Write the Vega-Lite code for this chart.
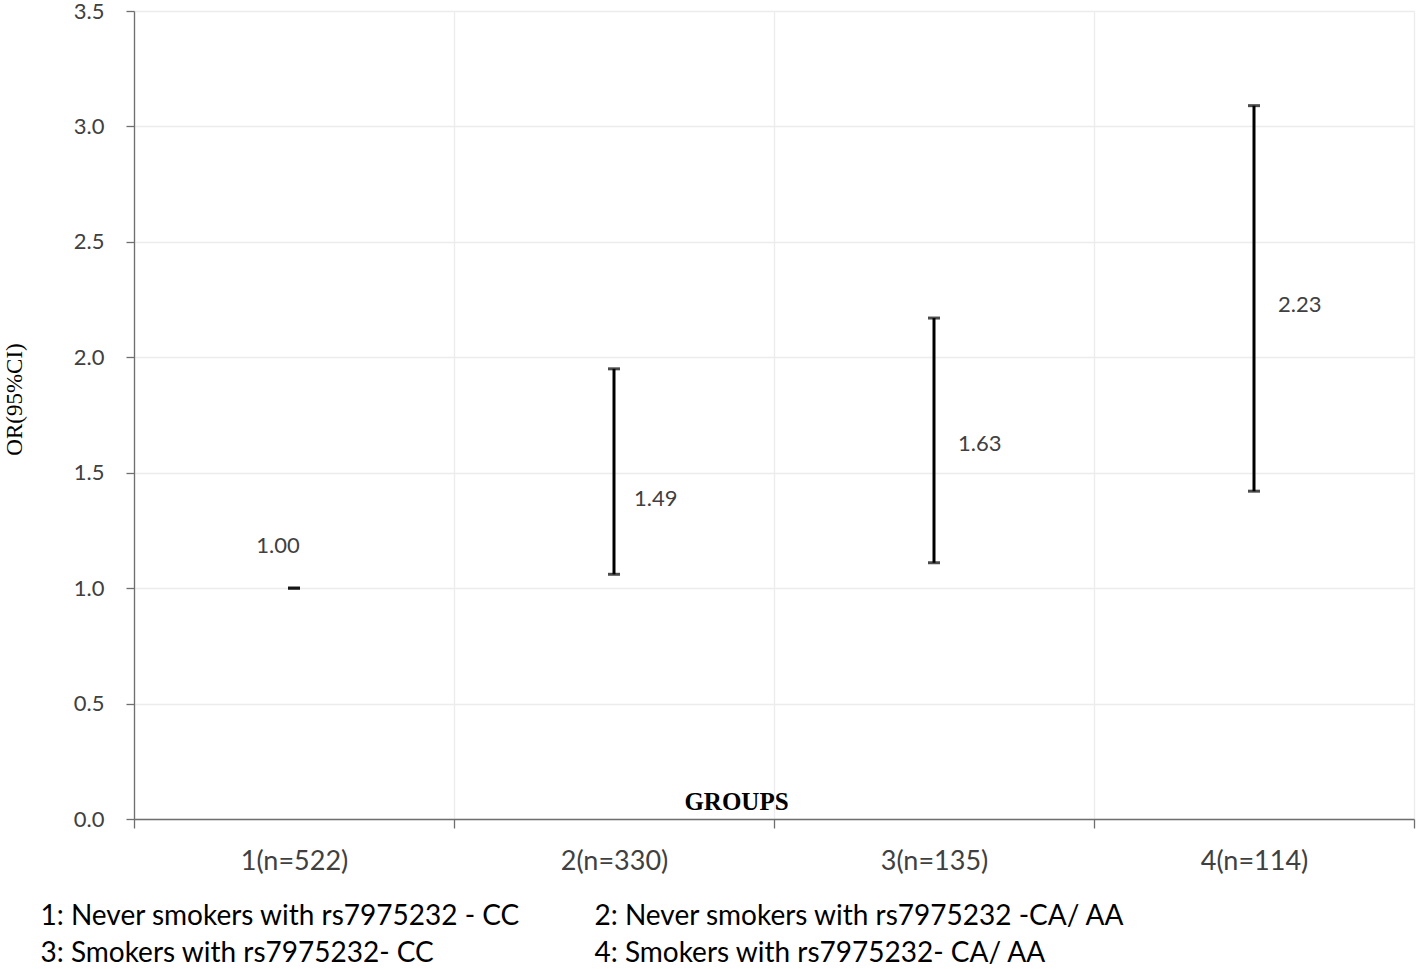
{
  "$schema": "https://vega.github.io/schema/vega-lite/v6.json",
  "width": 1280,
  "height": 808,
  "autosize": "none",
  "padding": {"left": 134, "top": 11, "right": 4, "bottom": 150},
  "background": "white",
  "config": {
    "view": {"stroke": null},
    "font": "Lato",
    "axis": {"labelFont": "Lato", "labelColor": "#404040", "domainColor": "#6f6f6f", "tickColor": "#6f6f6f", "gridColor": "#ececec", "gridWidth": 1.3, "domainWidth": 1.3, "tickWidth": 1.3}
  },
  "data": {
    "values": [
      {"group": "1(n=522)", "or": 1.00, "lower": 1.00, "upper": 1.00, "label": "1.00"},
      {"group": "2(n=330)", "or": 1.49, "lower": 1.06, "upper": 1.95, "label": "1.49"},
      {"group": "3(n=135)", "or": 1.63, "lower": 1.11, "upper": 2.17, "label": "1.63"},
      {"group": "4(n=114)", "or": 2.23, "lower": 1.42, "upper": 3.09, "label": "2.23"}
    ]
  },
  "encoding": {
    "y": {
      "field": "lower",
      "type": "quantitative",
      "scale": {"domain": [0, 3.5], "nice": false, "zero": true},
      "axis": {
        "values": [0, 0.5, 1, 1.5, 2, 2.5, 3, 3.5],
        "format": ".1f",
        "labelFontSize": 22,
        "labelPadding": 22,
        "tickSize": 8,
        "grid": true,
        "title": "OR(95%CI)",
        "titleFont": "Liberation Serif",
        "titleFontSize": 23,
        "titleFontWeight": "normal",
        "titleColor": "black",
        "titleAngle": 270,
        "titleX": -120,
        "titleY": 388,
        "titleAlign": "center",
        "titleBaseline": "middle"
      }
    }
  },
  "layer": [
    {
      "mark": {"type": "rule", "color": "black", "strokeWidth": 3},
      "encoding": {
        "x": {
          "field": "group",
          "type": "nominal",
          "sort": null,
          "scale": {"paddingInner": 0, "paddingOuter": 0},
          "axis": {
            "orient": "bottom",
            "tickBand": "extent",
            "grid": true,
            "labelAngle": 0,
            "labelFontSize": 27,
            "labelPadding": 20,
            "tickSize": 9,
            "title": "GROUPS",
            "titleFont": "Liberation Serif",
            "titleFontSize": 25,
            "titleFontWeight": "bold",
            "titleColor": "black",
            "titleX": 602,
            "titleY": -10,
            "titleAlign": "center",
            "titleBaseline": "alphabetic"
          }
        },
        "y2": {"field": "upper"}
      }
    },
    {
      "mark": {"type": "tick", "color": "black", "thickness": 3, "size": 12, "orient": "horizontal"},
      "encoding": {
        "x": {
          "field": "group",
          "type": "nominal",
          "sort": null,
          "axis": {
            "orient": "bottom",
            "labels": false,
            "ticks": false,
            "domain": false,
            "grid": false,
            "title": ["1: Never smokers with rs7975232 - CC", "3: Smokers with rs7975232- CC"],
            "titleFont": "Lato",
            "titleFontSize": 28,
            "titleFontWeight": "normal",
            "titleColor": "black",
            "titleX": -94,
            "titleY": 105,
            "titleAlign": "left",
            "titleBaseline": "alphabetic",
            "titleLineHeight": 37
          }
        }
      }
    },
    {
      "mark": {"type": "tick", "color": "black", "thickness": 3, "size": 12, "orient": "horizontal"},
      "encoding": {
        "x": {
          "field": "group",
          "type": "nominal",
          "sort": null,
          "axis": {
            "orient": "bottom",
            "labels": false,
            "ticks": false,
            "domain": false,
            "grid": false,
            "title": ["2: Never smokers with rs7975232 -CA/ AA", "4: Smokers with rs7975232- CA/ AA"],
            "titleFont": "Lato",
            "titleFontSize": 28,
            "titleFontWeight": "normal",
            "titleColor": "black",
            "titleX": 460,
            "titleY": 105,
            "titleAlign": "left",
            "titleBaseline": "alphabetic",
            "titleLineHeight": 37
          }
        },
        "y": {"field": "upper", "type": "quantitative"}
      }
    },
    {
      "transform": [{"filter": "datum.group == '1(n=522)'"}],
      "mark": {"type": "text", "fontSize": 22, "color": "#404040", "align": "center", "baseline": "middle", "dx": -16, "dy": -42},
      "encoding": {
        "x": {"field": "group", "type": "nominal", "sort": null, "axis": null},
        "y": {"field": "or", "type": "quantitative"},
        "text": {"field": "label"}
      }
    },
    {
      "transform": [{"filter": "datum.group == '2(n=330)'"}],
      "mark": {"type": "text", "fontSize": 22, "color": "#404040", "align": "left", "baseline": "middle", "dx": 20, "dy": 24},
      "encoding": {
        "x": {"field": "group", "type": "nominal", "sort": null, "axis": null},
        "y": {"field": "or", "type": "quantitative"},
        "text": {"field": "label"}
      }
    },
    {
      "transform": [{"filter": "datum.group == '3(n=135)' || datum.group == '4(n=114)'"}],
      "mark": {"type": "text", "fontSize": 22, "color": "#404040", "align": "left", "baseline": "middle", "dx": 24, "dy": 1},
      "encoding": {
        "x": {"field": "group", "type": "nominal", "sort": null, "axis": null},
        "y": {"field": "or", "type": "quantitative"},
        "text": {"field": "label"}
      }
    }
  ],
  "resolve": {"axis": {"x": "independent"}}
}
